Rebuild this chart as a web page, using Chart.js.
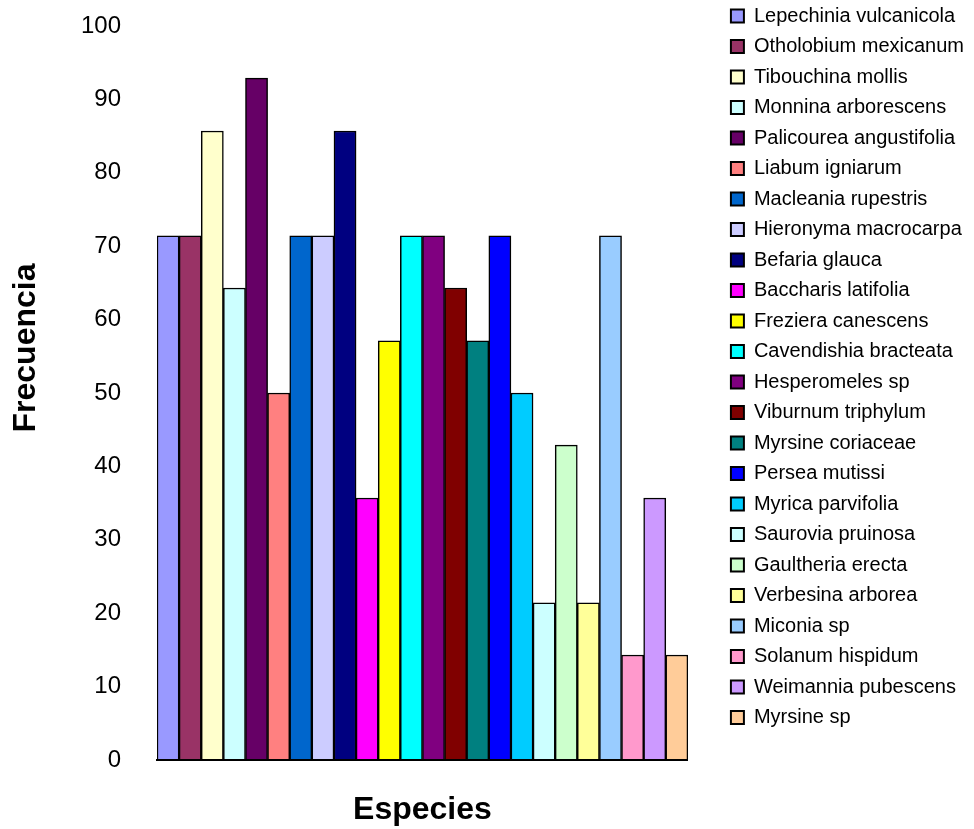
<!DOCTYPE html>
<html lang="es">
<head>
<meta charset="utf-8">
<title>Frecuencia por especie</title>
<script src="https://cdn.jsdelivr.net/npm/chart.js@4/dist/chart.umd.min.js"></script>
<style>
  html, body { margin: 0; padding: 0; background: #ffffff; }
  #wrap { width: 974px; height: 829px; }
</style>
</head>
<body>
<div id="wrap"><canvas id="chart" width="974" height="829"></canvas></div>
<script>
// Species (one bar each) and their frequency (%)
const species = [
  'Lepechinia vulcanicola', 'Otholobium mexicanum', 'Tibouchina mollis',
  'Monnina arborescens', 'Palicourea angustifolia', 'Liabum igniarum',
  'Macleania rupestris', 'Hieronyma macrocarpa', 'Befaria glauca',
  'Baccharis latifolia', 'Freziera canescens', 'Cavendishia bracteata',
  'Hesperomeles sp', 'Viburnum triphylum', 'Myrsine coriaceae',
  'Persea mutissi', 'Myrica parvifolia', 'Saurovia pruinosa',
  'Gaultheria erecta', 'Verbesina arborea', 'Miconia sp',
  'Solanum hispidum', 'Weimannia pubescens', 'Myrsine sp'
];
const frecuencia = [
  71.4, 71.4, 85.7, 64.3, 92.9, 50.0,
  71.4, 71.4, 85.7, 35.7, 57.1, 71.4,
  71.4, 64.3, 57.1, 71.4, 50.0, 21.4,
  42.9, 21.4, 71.4, 14.3, 35.7, 14.3
];
const barColors = [
  '#9999FF', '#993366', '#FFFFCC', '#CCFFFF', '#660066', '#FF8080',
  '#0066CC', '#CCCCFF', '#000080', '#FF00FF', '#FFFF00', '#00FFFF',
  '#800080', '#800000', '#008080', '#0000FF', '#00CCFF', '#CCFFFF',
  '#CCFFCC', '#FFFF99', '#99CCFF', '#FF99CC', '#CC99FF', '#FFCC99'
];
const yTicks = { min: 0, max: 100, step: 10 };
const xTitle = 'Especies';
const yTitle = 'Frecuencia';

const FONT = 'Arial, "Liberation Sans", Helvetica, sans-serif';

// Rotated y-axis title, set slightly above the vertical middle of the plot
const yTitlePlugin = {
  id: 'yTitle',
  afterDraw(chart) {
    const { ctx, chartArea } = chart;
    ctx.save();
    ctx.translate(26, chartArea.top + 322);
    ctx.rotate(-Math.PI / 2);
    ctx.font = 'bold 32px ' + FONT;
    ctx.fillStyle = '#000000';
    ctx.textAlign = 'center';
    ctx.textBaseline = 'middle';
    ctx.fillText(yTitle, 0, 0);
    ctx.restore();
  }
};

// Lift the legend column so it starts near the top edge of the canvas
const legendLift = {
  id: 'legendLift',
  afterLayout(chart) {
    const lg = chart.legend;
    if (!lg) return;
    lg.top -= 30.5;
    lg.bottom -= 30.5;
  }
};

const datasets = species.map((name, i) => ({
  label: name,
  data: [frecuencia[i]],
  backgroundColor: barColors[i],
  borderColor: '#000000',
  borderWidth: 1.5,
  categoryPercentage: 1.0,
  barPercentage: 1.0
}));

new Chart(document.getElementById('chart'), {
  type: 'bar',
  data: { labels: [''], datasets },
  options: {
    responsive: false,
    animation: false,
    devicePixelRatio: 1,
    layout: { padding: { top: 26, left: 0, right: 0, bottom: 0 } },
    plugins: {
      tooltip: { enabled: false },
      legend: {
        position: 'right',
        align: 'start',
        maxWidth: 300,
        labels: {
          boxWidth: 13,
          boxHeight: 13,
          padding: 10.5,
          color: '#000000',
          font: { family: FONT, size: 20 },
          generateLabels(chart) {
            return Chart.defaults.plugins.legend.labels.generateLabels(chart)
              .map(item => Object.assign(item, { lineWidth: 2 }));
          }
        }
      }
    },
    scales: {
      x: {
        grid: { display: false, drawTicks: false },
        border: { display: true, color: '#000000', width: 2, z: 1 },
        ticks: { display: false },
        title: {
          display: true,
          text: xTitle,
          color: '#000000',
          font: { family: FONT, size: 32, weight: 'bold' },
          padding: { top: 30.6, bottom: 0 }
        }
      },
      y: {
        min: yTicks.min,
        max: yTicks.max,
        grid: { display: false, drawTicks: false },
        border: { display: false },
        ticks: {
          stepSize: yTicks.step,
          padding: 36,
          color: '#000000',
          font: { family: FONT, size: 24 }
        },
        afterFit(scale) {
          scale.width = 157;
          scale.paddingTop = 0;
          scale.paddingBottom = 0;
        }
      },
      yGap: {
        type: 'linear',
        position: 'right',
        grid: { display: false, drawTicks: false },
        border: { display: false },
        ticks: { display: false },
        afterFit(scale) { scale.width = 32.5; }
      }
    }
  },
  plugins: [yTitlePlugin, legendLift]
});
</script>
</body>
</html>
